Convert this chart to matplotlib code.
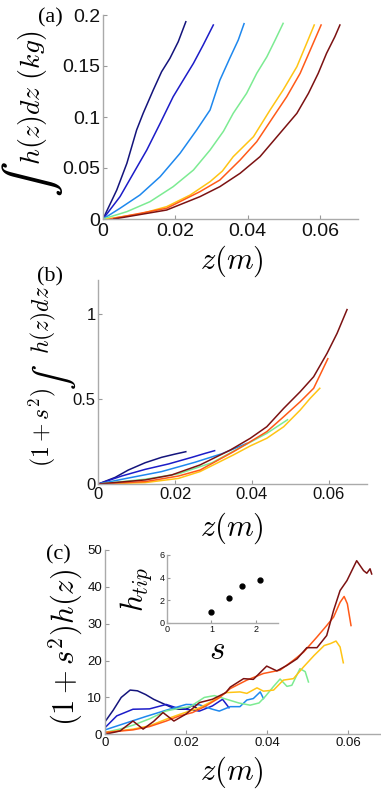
import matplotlib
matplotlib.use('Agg')
import matplotlib.pyplot as plt
import matplotlib as mpl

mpl.rcParams['mathtext.fontset'] = 'cm'
mpl.rcParams['font.family'] = ['Liberation Sans', 'DejaVu Sans']
mpl.rcParams['xtick.direction'] = 'in'
mpl.rcParams['ytick.direction'] = 'in'
mpl.rcParams['xtick.major.size'] = 3
mpl.rcParams['ytick.major.size'] = 3
mpl.rcParams['xtick.color'] = '#999999'
mpl.rcParams['ytick.color'] = '#999999'
mpl.rcParams['xtick.labelcolor'] = '#111111'
mpl.rcParams['ytick.labelcolor'] = '#111111'
mpl.rcParams['axes.edgecolor'] = '#aaaaaa'
mpl.rcParams['axes.linewidth'] = 1.0

colors = ['#14147c', '#1c1cc8', '#1e88ee', '#7ceb92', '#ffc414', '#ff5a18', '#7c1212']

# ---- panel (a): integral of h(z) dz (kg) ----
a_z = [
    [0, 0.0038, 0.0066, 0.0093, 0.0111, 0.0139, 0.0162, 0.0185, 0.0208, 0.0229],
    [0, 0.0047, 0.0084, 0.0121, 0.0158, 0.0194, 0.0222, 0.0250, 0.0277, 0.0305],
    [0, 0.0047, 0.0102, 0.0158, 0.0213, 0.0259, 0.0296, 0.0323, 0.0351, 0.0374, 0.0390],
    [0, 0.0066, 0.0130, 0.0194, 0.0250, 0.0296, 0.0333, 0.0360, 0.0397, 0.0425, 0.0453, 0.0476, 0.0498],
    [0.001, 0.0102, 0.0176, 0.0241, 0.0296, 0.0330, 0.0360, 0.0416, 0.0462, 0.0498, 0.0536, 0.0563, 0.0584],
    [0.002, 0.0176, 0.0268, 0.0323, 0.0379, 0.0425, 0.0471, 0.0508, 0.0545, 0.0577, 0.0603],
    [0.003, 0.0176, 0.0268, 0.0323, 0.0379, 0.0434, 0.0489, 0.0536, 0.0568, 0.0595, 0.0618, 0.0641, 0.0655],
]
a_v = [
    [0, 0.0284, 0.0546, 0.0873, 0.1036, 0.1265, 0.1444, 0.1575, 0.1738, 0.1934],
    [0, 0.0219, 0.0448, 0.0676, 0.0938, 0.1199, 0.1363, 0.1526, 0.1706, 0.1902],
    [0, 0.0105, 0.0235, 0.0415, 0.0644, 0.0873, 0.1069, 0.1360, 0.1580, 0.1755, 0.1915],
    [0, 0.0072, 0.0170, 0.0317, 0.0480, 0.0676, 0.0860, 0.1036, 0.1232, 0.1428, 0.1590, 0.1755, 0.1918],
    [0, 0.0049, 0.0121, 0.0235, 0.0366, 0.0470, 0.0611, 0.0807, 0.1069, 0.1265, 0.1493, 0.1722, 0.1902],
    [0, 0.0105, 0.0268, 0.0382, 0.0578, 0.0758, 0.1003, 0.1199, 0.1428, 0.1689, 0.1902],
    [0, 0.0088, 0.0219, 0.0317, 0.0448, 0.0611, 0.0840, 0.1036, 0.1232, 0.1428, 0.1624, 0.1787, 0.1902],
]

# ---- panel (b): (1+s^2) * integral ----
b_z = [
    [0, 0.0044, 0.0078, 0.0122, 0.0165, 0.0200, 0.0228],
    [0, 0.0061, 0.0122, 0.0183, 0.0244, 0.0278, 0.0303],
    [0, 0.0078, 0.0165, 0.0252, 0.0322, 0.0387],
    [0, 0.0122, 0.0209, 0.0296, 0.0387, 0.0439, 0.0493],
    [0, 0.0122, 0.0209, 0.0265, 0.0352, 0.0396, 0.0439, 0.0483, 0.0526, 0.0552, 0.0577],
    [0, 0.0122, 0.0209, 0.0265, 0.0352, 0.0396, 0.0439, 0.0483, 0.0526, 0.0561, 0.0598],
    [0, 0.0122, 0.0191, 0.0265, 0.0344, 0.0396, 0.0439, 0.0483, 0.0526, 0.0561, 0.0596, 0.0622, 0.0648],
]
b_v = [
    [0, 0.039, 0.082, 0.125, 0.157, 0.176, 0.190],
    [0, 0.047, 0.086, 0.118, 0.157, 0.180, 0.196],
    [0, 0.035, 0.073, 0.128, 0.178, 0.239],
    [0, 0.028, 0.060, 0.125, 0.235, 0.298, 0.378],
    [0, 0.008, 0.033, 0.073, 0.171, 0.224, 0.269, 0.337, 0.435, 0.504, 0.563],
    [0, 0.014, 0.047, 0.082, 0.190, 0.249, 0.308, 0.396, 0.484, 0.563, 0.737],
    [0, 0.024, 0.053, 0.112, 0.200, 0.269, 0.337, 0.445, 0.543, 0.631, 0.769, 0.886, 1.026],
]

# ---- panel (c): (1+s^2) h(z) ----
c_z = [
    [0, 0.002, 0.004, 0.0062, 0.008, 0.010, 0.012, 0.014, 0.016, 0.018, 0.020, 0.0215, 0.0225, 0.023],
    [0, 0.0029, 0.0069, 0.011, 0.0151, 0.0176, 0.020, 0.0233, 0.0265, 0.029, 0.0306],
    [0, 0.005, 0.010, 0.015, 0.020, 0.0233, 0.0265, 0.0282, 0.0309, 0.0333, 0.035, 0.0366, 0.0383, 0.0391],
    [0, 0.004, 0.007, 0.011, 0.015, 0.018, 0.021, 0.0245, 0.027, 0.030, 0.033, 0.0358, 0.038,
     0.0395, 0.0416, 0.0432, 0.0449, 0.0461, 0.0481, 0.0494, 0.0502],
    [0, 0.0069, 0.011, 0.0151, 0.0184, 0.0233, 0.0265, 0.0298, 0.0333, 0.035, 0.0375, 0.0391,
     0.0416, 0.044, 0.0465, 0.049, 0.0516, 0.0541, 0.0556, 0.057, 0.058, 0.0588],
    [0, 0.0069, 0.011, 0.0151, 0.0184, 0.0216, 0.0249, 0.0282, 0.0309, 0.035, 0.0391, 0.0432,
     0.0465, 0.049, 0.0523, 0.0547, 0.0564, 0.058, 0.059, 0.0598, 0.0607],
    [0, 0.0037, 0.0069, 0.0094, 0.012, 0.0143, 0.017, 0.020, 0.0233, 0.0265, 0.0298, 0.0309,
     0.0342, 0.0366, 0.0399, 0.0424, 0.0449, 0.0474, 0.0498, 0.0523, 0.0547, 0.0564, 0.058,
     0.0597, 0.0621, 0.0638, 0.0646, 0.0654, 0.0658],
]
c_v = [
    [3.4, 6.5, 10.0, 12.0, 11.8, 10.8, 9.5, 8.5, 7.5, 6.8, 6.8, 7.8, 7.2, 6.5],
    [1.8, 5.0, 6.8, 6.9, 8.1, 7.2, 6.8, 6.3, 7.7, 9.5, 7.2],
    [1.2, 3.0, 4.8, 6.5, 8.1, 8.0, 6.8, 6.3, 7.5, 7.5, 9.3, 9.7, 11.5, 9.7],
    [0.5, 1.5, 2.5, 4.2, 6.3, 7.0, 7.5, 10.0, 10.5, 9.5, 8.5, 7.9, 8.5, 10.2, 13.0, 15.0,
     13.0, 13.3, 17.8, 17.0, 14.2],
    [0.5, 1.4, 2.3, 4.1, 5.4, 7.2, 9.0, 11.3, 11.5, 11.1, 12.6, 11.7, 12.0, 14.7, 15.1, 18.3,
     21.4, 24.1, 24.6, 25.3, 23.7, 19.4],
    [0.5, 1.2, 2.1, 3.6, 5.0, 5.9, 7.7, 9.9, 12.4, 14.7, 16.5, 17.4, 20.1, 22.3, 26.4, 29.5,
     31.8, 35.8, 37.4, 35.4, 29.5],
    [0, 0.9, 3.6, 1.4, 3.5, 5.9, 3.6, 5.5, 8.6, 9.5, 11.3, 12.8, 15.1, 14.9, 18.5, 17.2, 18.7,
     20.5, 23.5, 23.5, 26.8, 33.6, 39.0, 41.7, 47.1, 44.4, 43.7, 44.9, 43.5],
]

# inset: h_tip vs s
s_vals = [1.0, 1.4, 1.7, 2.1]
htip_vals = [0.94, 2.22, 3.25, 3.77]


fig = plt.figure(figsize=(3.81, 7.92), dpi=100)

W, H = 381.0, 792.0


def add_axes_px(left, top, right, bottom):
    return fig.add_axes([left / W, 1 - bottom / H, (right - left) / W, (bottom - top) / H])


def vlabel(x, y, s, size, **kw):
    # rotated label piece, baseline on the vertical line x (pixels, origin top-left)
    fig.text(x / W, 1 - y / H, s, fontsize=size, rotation=90, rotation_mode='anchor',
             ha='center', va='baseline', **kw)


def clean(ax):
    ax.spines['top'].set_visible(False)
    ax.spines['right'].set_visible(False)
    ax.patch.set_alpha(0)


# (a)
ax1 = add_axes_px(103, 15, 358, 219)
for zz, vv, c in zip(a_z, a_v, colors):
    ax1.plot(zz, vv, color=c, linewidth=1.1)
ax1.set_xlim(0, 0.0705)
ax1.set_ylim(0, 0.2)
ax1.set_xticks([0, 0.02, 0.04, 0.06])
ax1.set_xticklabels(['0', '0.02', '0.04', '0.06'])
ax1.set_yticks([0, 0.05, 0.1, 0.15, 0.2])
ax1.set_yticklabels(['0', '0.05', '0.1', '0.15', '0.2'])
ax1.tick_params(labelsize=14, pad=2)
ax1.tick_params(axis='x', pad=3)
ax1.set_xlabel(r'$z(m)$', fontsize=22)
ax1.xaxis.set_label_coords(0.506, -0.12)
clean(ax1)
vlabel(40, 98, r'$h(z)dz\ (kg)$', 20)
vlabel(46, 179, r'$\int$', 38, math_fontfamily='stix')
fig.text(50 / W, 1 - 18 / H, '(a)', fontsize=16, family='Liberation Serif', ha='center', va='center')

# (b)
ax2 = add_axes_px(98.3, 280, 367, 484)
for zz, vv, c in zip(b_z, b_v, colors):
    ax2.plot(zz, vv, color=c, linewidth=1.1)
ax2.set_xlim(0, 0.07)
ax2.set_ylim(0, 1.2)
ax2.set_xticks([0, 0.02, 0.04, 0.06])
ax2.set_xticklabels(['0', '0.02', '0.04', '0.06'])
ax2.set_yticks([0, 0.5, 1])
ax2.set_yticklabels(['0', '0.5', '1'])
ax2.tick_params(labelsize=12, pad=2)
ax2.set_xlabel(r'$z(m)$', fontsize=22)
ax2.xaxis.set_label_coords(0.498, -0.13)
clean(ax2)
vlabel(49, 428, r'$(1+s^2)$', 17)
vlabel(64, 377, r'$\int$', 27, math_fontfamily='stix')
vlabel(49, 320, r'$h(z)dz$', 17)
fig.text(50 / W, 1 - 277 / H, '(b)', fontsize=16, family='Liberation Serif', ha='center', va='center')

# (c)
ax3 = add_axes_px(105, 550, 381, 734.3)
for zz, vv, c in zip(c_z, c_v, colors):
    ax3.plot(zz, vv, color=c, linewidth=1.1)
ax3.set_xlim(0, 0.0681)
ax3.set_ylim(0, 50)
ax3.set_xticks([0, 0.02, 0.04, 0.06])
ax3.set_xticklabels(['0', '0.02', '0.04', '0.06'])
ax3.set_yticks([0, 10, 20, 30, 40, 50])
ax3.tick_params(labelsize=9.5, pad=2)
ax3.set_xlabel(r'$z(m)$', fontsize=22)
ax3.xaxis.set_label_coords(0.46, -0.11)
clean(ax3)
vlabel(74, 648, r'$(1+s^2)h(z)$', 22)
fig.text(58 / W, 1 - 555 / H, '(c)', fontsize=16, family='Liberation Serif', ha='center', va='center')

# inset
ax4 = add_axes_px(167, 555, 278, 623)
ax4.plot(s_vals, htip_vals, 'o', color='black', markersize=3.5)
ax4.set_xlim(0, 2.5)
ax4.set_ylim(0, 6)
ax4.set_xticks([0, 1, 2])
ax4.set_yticks([0, 2, 4, 6])
ax4.tick_params(labelsize=6.5, pad=1.5, length=2)
ax4.set_ylabel(r'$h_{tip}$', fontsize=22)
ax4.yaxis.set_label_coords(-0.12, 0.5)
ax4.set_xlabel(r'$s$', fontsize=24)
ax4.xaxis.set_label_coords(0.45, -0.18)
clean(ax4)

fig.savefig('out.png', dpi=100)
